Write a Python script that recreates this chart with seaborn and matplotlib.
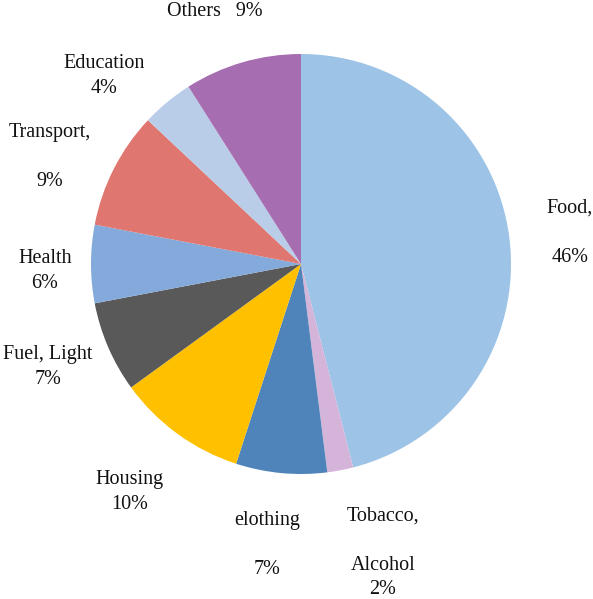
import matplotlib
matplotlib.use("Agg")
import matplotlib.pyplot as plt
import seaborn as sns

sns.set_style("white")
plt.rcParams['font.family'] = ['Liberation Serif', 'DejaVu Serif']

categories = ['Food', 'Tobacco, Alcohol', 'Clothing', 'Housing', 'Fuel, Light',
              'Health', 'Transport', 'Education', 'Others']
shares = [46, 2, 7, 10, 7, 6, 9, 4, 9]
colors = ['#9DC3E6', '#D5B4DA', '#4F84BA', '#FFC000', '#595959',
          '#83AADB', '#E07670', '#B9CDE8', '#A66DB0']
label_texts = ['Food,\n\n46%', 'Tobacco,\n\nAlcohol\n2%', 'elothing\n\n7%',
               'Housing\n10%', 'Fuel, Light\n7%', 'Health\n6%',
               'Transport,\n\n9%', 'Education\n4%', 'Others   9%']
# label centres in pixels (x from left, y from top)
label_pos = [(570, 233), (383, 553), (267, 545), (130, 492), (48, 367),
             (45, 271), (50, 157), (104, 76), (215, 12)]

fig = plt.figure(figsize=(5.93, 5.99), dpi=100)
ax = fig.add_axes([0, 0, 1, 1])
ax.pie(shares, colors=colors, startangle=90, counterclock=False,
       center=(301, 599 - 264), radius=210,
       wedgeprops=dict(linewidth=0))
ax.set_xlim(0, 593)
ax.set_ylim(0, 599)
ax.set_aspect('equal')
ax.axis('off')

for txt, (x, y) in zip(label_texts, label_pos):
    ax.text(x, 599 - y, txt, ha='center', va='center', fontsize=14.5,
            linespacing=1.4, color='#111111')

fig.savefig('out.png', dpi=100)
